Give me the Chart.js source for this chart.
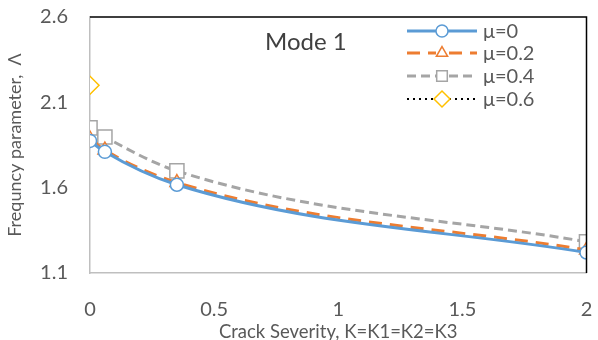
<!DOCTYPE html>
<html>
<head>
<meta charset="utf-8">
<script src="https://cdn.jsdelivr.net/npm/chart.js@4.4.0/dist/chart.umd.min.js"></script>
<style>
  html, body { margin: 0; padding: 0; background: #fff; }
  #wrap { width: 598px; height: 340px; }
</style>
</head>
<body>
<div id="wrap"><canvas id="chart"></canvas></div>
<script>
// crack severity K
const severity = [0, 0.06, 0.35, 2];
const mu0 = [1.874, 1.81, 1.617, 1.22];
const mu02 = [1.885, 1.82, 1.63, 1.235];
const mu04 = [1.95, 1.897, 1.698, 1.283];
const mu06 = [2.2];
const yTicks = [1.1, 1.6, 2.1, 2.6];
const seriesNames = ['μ=0', 'μ=0.2', 'μ=0.4', 'μ=0.6'];

const pts = (vals) => vals.map((v, i) => ({ x: severity[i], y: v }));

const font = 'Lato';
const grey = '#595959';

const datasets = [
  { label: seriesNames[0], data: pts(mu0), borderColor: '#5B9BD5', borderWidth: 3,
    pointStyle: 'circle', pointRadius: 6.5, pointBorderColor: '#5B9BD5', pointBackgroundColor: '#fff', pointBorderWidth: 1.5, legR: 6 },
  { label: seriesNames[1], data: pts(mu02), borderColor: '#ED7D31', borderWidth: 3, borderDash: [13, 8],
    pointStyle: 'triangle', pointRadius: 8, pointBorderColor: '#ED7D31', pointBackgroundColor: '#fff', pointBorderWidth: 1.5, legR: 6.5 },
  { label: seriesNames[2], data: pts(mu04), borderColor: '#A5A5A5', borderWidth: 3, borderDash: [9, 5],
    pointStyle: 'rect', pointRadius: 10, pointBorderColor: '#A5A5A5', pointBackgroundColor: '#fff', pointBorderWidth: 1.5, legR: 7.5 },
  { label: seriesNames[3], data: pts(mu06), borderColor: '#000', borderWidth: 2, borderDash: [2, 4],
    pointStyle: 'rectRot', pointRadius: 9, pointBorderColor: '#FFC000', pointBackgroundColor: '#fff', pointBorderWidth: 1.5, legR: 8 }
];

// frame (top/right black), label and hand-drawn legend
const decor = {
  id: 'decor',
  afterDraw(chart) {
    const { ctx, chartArea: a } = chart;
    ctx.save();
    ctx.strokeStyle = '#000';
    ctx.lineWidth = 1.5;
    ctx.beginPath();
    ctx.moveTo(a.left, a.top);
    ctx.lineTo(a.right, a.top);
    ctx.lineTo(a.right, a.bottom);
    ctx.stroke();

    ctx.fillStyle = '#404040';
    ctx.font = '24px ' + font;
    ctx.textAlign = 'left';
    ctx.textBaseline = 'middle';
    ctx.fillText('Mode 1', 265, 42);

    const rows = [31, 53, 76, 99];
    datasets.forEach((ds, i) => {
      const y = rows[i];
      ctx.save();
      ctx.strokeStyle = ds.borderColor;
      ctx.lineWidth = ds.borderWidth;
      ctx.setLineDash(ds.borderDash || []);
      ctx.beginPath();
      ctx.moveTo(407, y);
      ctx.lineTo(477, y);
      ctx.stroke();
      ctx.setLineDash([]);
      ctx.fillStyle = '#fff';
      ctx.fillRect(436, y - 6, 12, 12);
      ctx.strokeStyle = ds.pointBorderColor;
      ctx.lineWidth = 1.5;
      Chart.helpers.drawPoint(ctx, { pointStyle: ds.pointStyle, radius: ds.legR, borderWidth: 1.5 }, 442, y);
      ctx.restore();
      ctx.fillStyle = grey;
      ctx.font = '20px ' + font;
      ctx.textBaseline = 'middle';
      ctx.fillText(ds.label, 483, y + 1);
    });
    ctx.restore();
  }
};

new Chart('chart', {
  type: 'line',
  data: { datasets },
  options: {
    responsive: true,
    maintainAspectRatio: false,
    animation: false,
    layout: { padding: { top: 17, right: 10, left: 0, bottom: 0 } },
    elements: { line: { cubicInterpolationMode: 'monotone' } },
    plugins: { legend: { display: false }, tooltip: { enabled: false } },
    scales: {
      x: {
        type: 'linear', min: 0, max: 2,
        ticks: { stepSize: 0.5, color: grey, font: { size: 20, family: font }, padding: 25,
          callback: (v) => String(v) },
        grid: { display: false, drawTicks: false },
        border: { color: '#BFBFBF', width: 1.5 },
        title: { display: true, text: 'Crack Severity, K=K1=K2=K3', color: grey, font: { size: 18.5, family: font, lineHeight: 0.9 }, padding: { top: 0, bottom: 0 } },
        afterFit(s) { s.height = 67; s.paddingLeft = 0; s.paddingRight = 0; }
      },
      y: {
        min: 1.1, max: 2.6,
        afterBuildTicks(s) { s.ticks = yTicks.map(v => ({ value: v })); },
        ticks: { color: grey, font: { size: 20, family: font }, padding: 22 },
        grid: { display: false, drawTicks: false },
        border: { color: '#BFBFBF', width: 1.5 },
        title: { display: true, text: 'Frequncy parameter,  Λ', color: grey, font: { size: 18, family: font }, padding: { bottom: 4 } },
        afterFit(s) { s.width = 90; s.paddingTop = 0; s.paddingBottom = 0; }
      }
    }
  },
  plugins: [decor]
});
</script>
</body>
</html>
